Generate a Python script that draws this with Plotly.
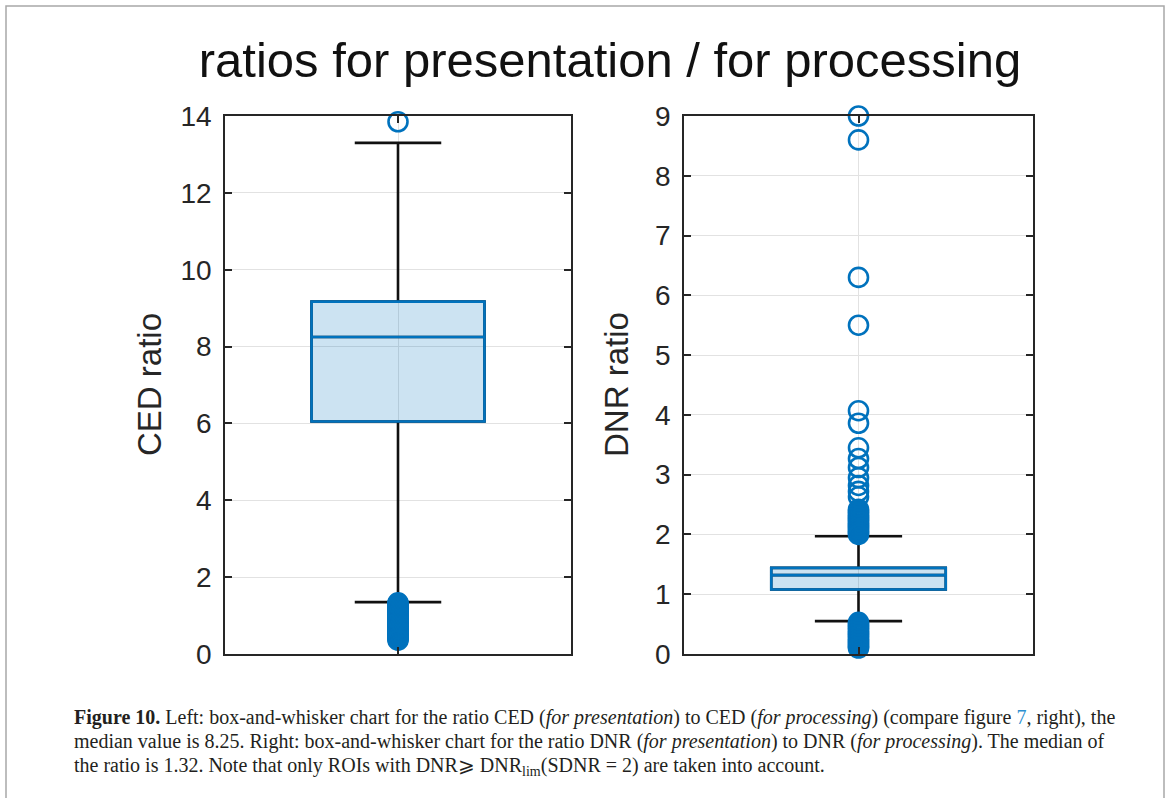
import plotly.graph_objects as go

W, H = 1168, 798

# ---------------- data ----------------
group_pos = [1]

ced_q1 = [6.05]
ced_median = [8.25]
ced_q3 = [9.17]
ced_lowerfence = [1.35]
ced_upperfence = [13.3]
ced_outliers = [13.85,
                1.33, 1.31, 1.29, 1.27, 1.24, 1.22, 1.19, 1.17, 1.14, 1.11,
                1.08, 1.05, 1.02, 0.99, 0.96, 0.93, 0.9, 0.87, 0.84, 0.81,
                0.78, 0.75, 0.72, 0.69, 0.66, 0.63, 0.6, 0.57, 0.54, 0.51,
                0.48, 0.45, 0.42, 0.39, 0.36]

dnr_q1 = [1.08]
dnr_median = [1.32]
dnr_q3 = [1.44]
dnr_lowerfence = [0.55]
dnr_upperfence = [1.97]
dnr_outliers = [9.0, 8.6, 6.3, 5.5, 4.07, 3.86, 3.45, 3.27, 3.12, 2.95, 2.82,
                2.72, 2.63, 2.42, 2.39, 2.37, 2.34, 2.31, 2.29, 2.26, 2.24,
                2.21, 2.18, 2.16, 2.13, 2.11, 2.08, 2.05, 2.03, 2.0,
                0.53, 0.5, 0.48, 0.45, 0.43, 0.4, 0.37, 0.35, 0.32, 0.3,
                0.27, 0.24, 0.22, 0.19, 0.17, 0.14, 0.12, 0.1]

title_text = "ratios for presentation / for processing"
ylabels = ["CED ratio", "DNR ratio"]
caption_lines = [
    "<b>Figure 10.</b> Left: box-and-whisker chart for the ratio CED (<i>for presentation</i>) to CED "
    "(<i>for processing</i>) (compare figure <span style='color:#2b8fd1'>7</span>, right), the",
    "median value is 8.25. Right: box-and-whisker chart for the ratio DNR (<i>for presentation</i>) "
    "to DNR (<i>for processing</i>). The median of",
    "the ratio is 1.32. Note that only ROIs with DNR\u2a7e DNR<sub>lim</sub>(SDNR = 2) are taken into account.",
]

# ---------------- styling ----------------
BLUE = "#0072BD"
FILL = "rgba(0,114,189,0.2)"
AXC = "#262626"
SANS = "Liberation Sans, Arial, sans-serif"
SERIF = "Liberation Serif, Times New Roman, serif"


def px_x(p):
    return p / W


def px_y(p):
    return 1 - p / H


fig = go.Figure()


def add_box(xa, ya, q1, med, q3, lf, uf, outl):
    # whiskers (black)
    fig.add_trace(go.Box(x=group_pos, q1=q1, median=med, q3=q3, lowerfence=lf,
                         upperfence=uf, width=0.5, whiskerwidth=0.5,
                         line=dict(color="#111111", width=2.6),
                         fillcolor="rgba(0,0,0,0)", boxpoints=False,
                         xaxis=xa, yaxis=ya, showlegend=False, hoverinfo="skip"))
    # box (blue)
    fig.add_trace(go.Box(x=group_pos, q1=q1, median=med, q3=q3, lowerfence=q1,
                         upperfence=q3, width=0.5, whiskerwidth=0,
                         line=dict(color=BLUE, width=2.6),
                         fillcolor=FILL, boxpoints=False,
                         xaxis=xa, yaxis=ya, showlegend=False, hoverinfo="skip"))
    fig.add_trace(go.Scatter(x=group_pos * len(outl), y=outl, mode="markers",
                             cliponaxis=False,
                             marker=dict(symbol="circle-open", size=19, color=BLUE,
                                         line=dict(width=2.6, color=BLUE)),
                             xaxis=xa, yaxis=ya, showlegend=False, hoverinfo="skip"))


add_box("x", "y", ced_q1, ced_median, ced_q3, ced_lowerfence, ced_upperfence, ced_outliers)
add_box("x2", "y2", dnr_q1, dnr_median, dnr_q3, dnr_lowerfence, dnr_upperfence, dnr_outliers)

common = dict(showline=True, linecolor=AXC, linewidth=1.6, mirror="ticks",
              ticks="inside", ticklen=7, tickwidth=1.6, tickcolor=AXC,
              showgrid=True, gridcolor="#e2e2e2", gridwidth=1, zeroline=False,
              fixedrange=True, automargin=False)

top, bottom = 116, 654
ydom = [px_y(bottom), px_y(top)]

fig.update_layout(
    width=W, height=H,
    margin=dict(l=0, r=0, t=0, b=0, pad=0, autoexpand=False),
    paper_bgcolor="white", plot_bgcolor="white",
    boxmode="overlay",
    title=dict(text=title_text, x=px_x(610), xanchor="center", y=px_y(60), yanchor="middle",
               automargin=False,
               font=dict(family=SANS, size=49, color="#111111")),
    xaxis=dict(domain=[px_x(225), px_x(571)], range=[0.5, 1.5], tickvals=[1],
               showticklabels=False, anchor="y", **common),
    yaxis=dict(domain=ydom, range=[0, 14], tickvals=[0, 2, 4, 6, 8, 10, 12, 14],
               anchor="x", ticklabelstandoff=6,
               tickfont=dict(family=SANS, size=28, color=AXC), **common),
    xaxis2=dict(domain=[px_x(684), px_x(1033)], range=[0.5, 1.5], tickvals=[1],
                showticklabels=False, anchor="y2", **common),
    yaxis2=dict(domain=ydom, range=[0, 9], tickvals=list(range(10)),
                anchor="x2", ticklabelstandoff=6,
                tickfont=dict(family=SANS, size=28, color=AXC), **common),
)

# axis titles
for lab, xc in zip(ylabels, [150, 617]):
    fig.add_annotation(text=lab, x=px_x(xc), y=px_y((top + bottom) / 2), xref="paper",
                       yref="paper", xanchor="center", yanchor="middle", textangle=-90,
                       showarrow=False, font=dict(family=SANS, size=33, color=AXC))

# caption
for i, line in enumerate(caption_lines):
    fig.add_annotation(text=line, x=px_x(72), y=px_y(717 + 24.5 * i), xref="paper",
                       yref="paper", xanchor="left", yanchor="middle", align="left",
                       showarrow=False, font=dict(family=SERIF, size=20, color="#231f20"))

# outer frame of the figure
fig.add_shape(type="rect", xref="paper", yref="paper", x0=px_x(6), x1=px_x(1164),
              y0=-0.05, y1=px_y(6), line=dict(color="#a8a8a8", width=1.5),
              fillcolor="rgba(0,0,0,0)", layer="below")

fig.write_html("out.html", config={"displayModeBar": False})
